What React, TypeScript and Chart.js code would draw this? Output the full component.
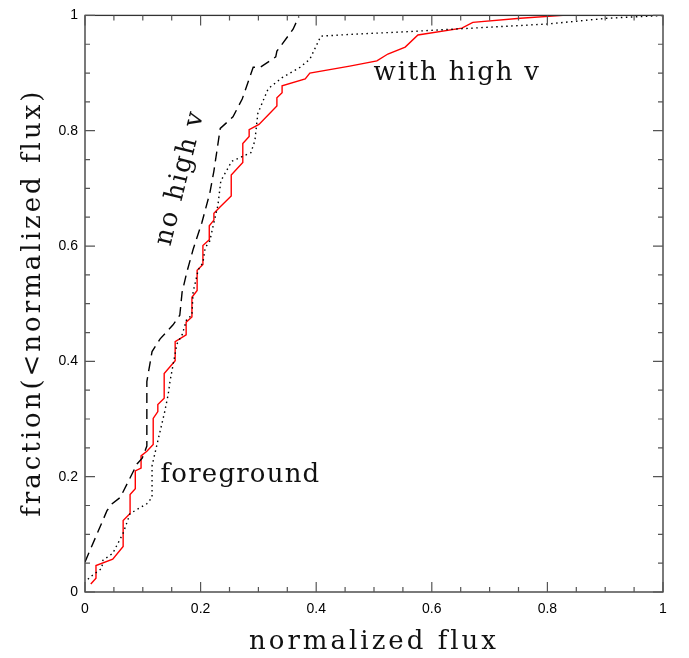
import React, { useEffect, useRef } from "react";
import { Chart, registerables } from "chart.js";

Chart.register(...registerables);

// ---- data (normalized flux, cumulative fraction) ----
const withHighV: [number, number][] = [
  [0.010, 0.014], [0.019, 0.024], [0.019, 0.046], [0.048, 0.057], [0.066, 0.079],
  [0.066, 0.124], [0.078, 0.136], [0.078, 0.169], [0.087, 0.179], [0.087, 0.210],
  [0.097, 0.215], [0.097, 0.236], [0.107, 0.244], [0.118, 0.256], [0.118, 0.301],
  [0.126, 0.313], [0.126, 0.325], [0.137, 0.336], [0.137, 0.379], [0.156, 0.401],
  [0.156, 0.434], [0.175, 0.446], [0.175, 0.468], [0.185, 0.477], [0.185, 0.511],
  [0.194, 0.523], [0.194, 0.558], [0.204, 0.568], [0.204, 0.601], [0.215, 0.611],
  [0.215, 0.635], [0.223, 0.645], [0.223, 0.657], [0.234, 0.668], [0.253, 0.687],
  [0.253, 0.723], [0.273, 0.745], [0.273, 0.778], [0.284, 0.790], [0.284, 0.802],
  [0.301, 0.811], [0.332, 0.843], [0.332, 0.857], [0.341, 0.866], [0.341, 0.878],
  [0.381, 0.890], [0.389, 0.900], [0.458, 0.912], [0.505, 0.921], [0.524, 0.933],
  [0.554, 0.945], [0.576, 0.966], [0.652, 0.978], [0.671, 0.988], [0.753, 0.995],
  [0.827, 1.000],
];

const noHighV: [number, number][] = [
  [0.000, 0.052], [0.038, 0.141], [0.047, 0.153], [0.061, 0.164], [0.090, 0.222],
  [0.099, 0.232], [0.107, 0.253], [0.107, 0.365], [0.116, 0.417], [0.130, 0.439],
  [0.152, 0.463], [0.164, 0.480], [0.168, 0.520], [0.176, 0.554], [0.187, 0.594],
  [0.202, 0.640], [0.216, 0.692], [0.223, 0.730], [0.234, 0.804], [0.256, 0.824],
  [0.272, 0.855], [0.291, 0.910], [0.303, 0.910], [0.330, 0.928], [0.332, 0.938],
  [0.360, 0.976], [0.370, 0.998],
];

const foreground: [number, number][] = [
  [0.005, 0.022], [0.009, 0.026], [0.029, 0.041], [0.031, 0.055], [0.048, 0.067],
  [0.066, 0.102], [0.078, 0.136], [0.107, 0.153], [0.116, 0.164], [0.116, 0.219],
  [0.126, 0.262], [0.130, 0.279], [0.138, 0.313], [0.144, 0.343], [0.147, 0.365],
  [0.159, 0.430], [0.168, 0.446], [0.176, 0.473], [0.185, 0.480], [0.187, 0.520],
  [0.196, 0.559], [0.204, 0.571], [0.208, 0.597], [0.216, 0.609], [0.221, 0.632],
  [0.230, 0.671], [0.235, 0.713], [0.254, 0.747], [0.287, 0.762], [0.294, 0.783],
  [0.299, 0.830], [0.317, 0.873], [0.341, 0.892], [0.372, 0.910], [0.389, 0.924],
  [0.408, 0.964], [0.458, 0.967], [0.562, 0.972], [0.799, 0.985], [0.903, 0.995],
  [1.000, 1.000],
];

const TICK_VALUES = [0, 0.2, 0.4, 0.6, 0.8, 1];
const TICK_LABELS = ["0", "0.2", "0.4", "0.6", "0.8", "1"];

const X_TITLE = "normalized flux";
const Y_TITLE = "fraction(<normalized flux)";
const LABEL_WITH = "with high v";
const LABEL_NO = "no high v";
const LABEL_FG = "foreground";

const SERIF = '"DejaVu Serif", serif';
const SANS = '"Liberation Sans", Arial, sans-serif';

const toPts = (a: [number, number][]) => a.map(([x, y]) => ({ x, y }));
const fmtTick = (v: number) => {
  const i = TICK_VALUES.findIndex((t) => Math.abs(t - v) < 1e-6);
  return i >= 0 ? TICK_LABELS[i] : "";
};

const framePlugin = {
  id: "frameAndText",
  afterDraw(chart: any) {
    const { ctx, chartArea: a, scales } = chart;
    const xs = scales.x;
    const ys = scales.y;
    ctx.save();
    // frame
    ctx.strokeStyle = "#333";
    ctx.lineWidth = 1.3;
    ctx.strokeRect(a.left, a.top, a.right - a.left, a.bottom - a.top);
    // inward ticks on all four sides
    ctx.strokeStyle = "#555";
    ctx.lineWidth = 1.2;
    ctx.beginPath();
    for (let i = 0; i <= 20; i++) {
      const v = i * 0.05;
      const len = i % 4 === 0 ? 10 : 5;
      const px = xs.getPixelForValue(v);
      ctx.moveTo(px, a.bottom);
      ctx.lineTo(px, a.bottom - len);
      ctx.moveTo(px, a.top);
      ctx.lineTo(px, a.top + len);
      const py = ys.getPixelForValue(v);
      ctx.moveTo(a.left, py);
      ctx.lineTo(a.left + len, py);
      ctx.moveTo(a.right, py);
      ctx.lineTo(a.right - len, py);
    }
    ctx.stroke();

    // texts
    ctx.fillStyle = "#111";
    ctx.font = `26px ${SERIF}`;
    (ctx as any).letterSpacing = "3px";
    ctx.textAlign = "center";
    ctx.textBaseline = "alphabetic";
    ctx.fillText(X_TITLE, (a.left + a.right) / 2, 649);
    ctx.save();
    ctx.translate(40, (a.top + a.bottom) / 2 - 1);
    ctx.rotate(-Math.PI / 2);
    ctx.fillText(Y_TITLE, 0, 0);
    ctx.restore();

    (ctx as any).letterSpacing = "1.8px";
    ctx.fillText(LABEL_WITH, xs.getPixelForValue(0.644), ys.getPixelForValue(0.888));
    (ctx as any).letterSpacing = "1.2px";
    ctx.fillText(LABEL_FG, xs.getPixelForValue(0.269), ys.getPixelForValue(0.191));
    (ctx as any).letterSpacing = "1.8px";
    ctx.save();
    ctx.translate(xs.getPixelForValue(0.165), ys.getPixelForValue(0.718));
    ctx.rotate((-76 * Math.PI) / 180);
    ctx.textBaseline = "middle";
    ctx.fillText(LABEL_NO, 0, 0);
    ctx.restore();
    ctx.restore();
  },
};

export default function App() {
  const ref = useRef<HTMLCanvasElement | null>(null);
  useEffect(() => {
    if (!ref.current) return;
    const chart = new Chart(ref.current, {
      type: "line",
      data: {
        datasets: [
          {
            label: "foreground",
            data: toPts(foreground),
            borderColor: "#000",
            borderWidth: 1.4,
            borderDash: [1.5, 3.5],
            pointRadius: 0,
            tension: 0,
          },
          {
            label: "no high v",
            data: toPts(noHighV),
            borderColor: "#000",
            borderWidth: 1.4,
            borderDash: [10, 6],
            pointRadius: 0,
            tension: 0,
          },
          {
            label: "with high v",
            data: toPts(withHighV),
            borderColor: "#ff0000",
            borderWidth: 1.4,
            pointRadius: 0,
            tension: 0,
          },
        ],
      },
      options: {
        responsive: false,
        animation: false,
        devicePixelRatio: 1,
        layout: { padding: { top: 11, right: 26, left: 0, bottom: 0 } },
        plugins: { legend: { display: false }, tooltip: { enabled: false } },
        scales: {
          x: {
            type: "linear",
            min: 0,
            max: 1,
            grid: { display: false, drawTicks: false },
            border: { display: false },
            ticks: {
              stepSize: 0.2,
              padding: 9,
              color: "#000",
              font: { family: SANS, size: 14 },
              maxRotation: 0,
              callback: (v: any) => fmtTick(Number(v)),
            },
            afterFit: (s: any) => {
              s.height = 66;
            },
          },
          y: {
            type: "linear",
            min: 0,
            max: 1,
            grid: { display: false, drawTicks: false },
            border: { display: false },
            ticks: {
              stepSize: 0.2,
              padding: 7,
              color: "#000",
              font: { family: SANS, size: 14 },
              callback: (v: any) => fmtTick(Number(v)),
            },
            afterFit: (s: any) => {
              s.width = 85;
            },
          },
        },
      },
      plugins: [framePlugin],
    } as any);
    return () => chart.destroy();
  }, []);
  return (
    <div style={{ position: "fixed", left: 0, top: 0, width: 689, height: 658, background: "#fff" }}>
      <canvas ref={ref} width={689} height={658} style={{ width: 689, height: 658, display: "block" }} />
    </div>
  );
}
